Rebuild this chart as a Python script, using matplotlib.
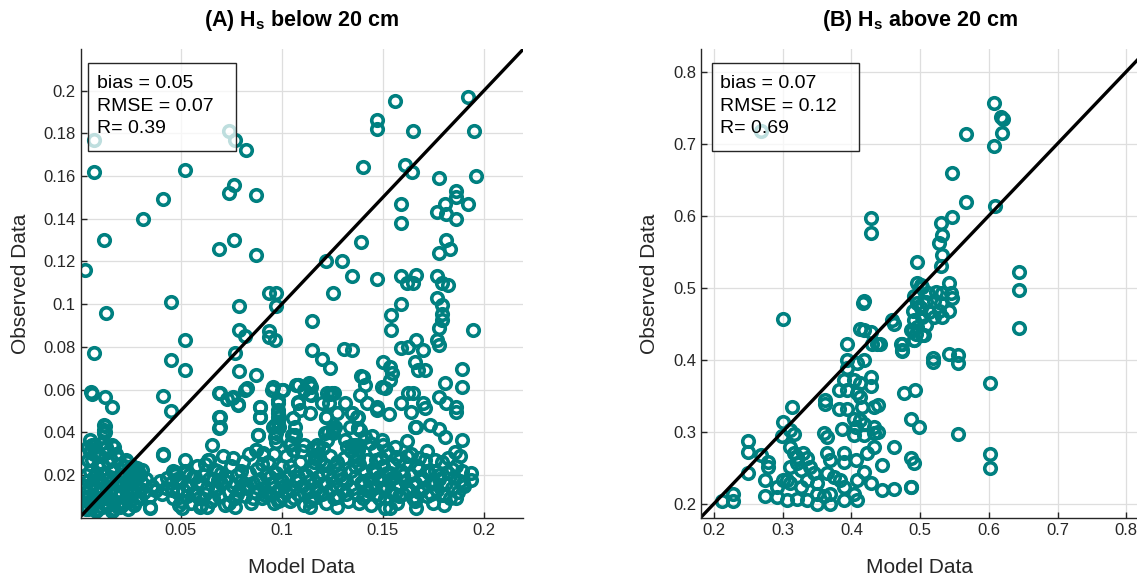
import matplotlib
matplotlib.use("Agg")
import matplotlib.pyplot as plt
from matplotlib.patches import Rectangle
import numpy as np

plt.rcParams['font.family'] = ['Liberation Sans', 'DejaVu Sans']
plt.rcParams['mathtext.default'] = 'regular'

teal = '#008080'

# ---- panel A: Hs below 20 cm (scattered points)
model_a = [0.0072, 0.0072, 0.0027, 0.0121, 0.0312, 0.0414, 0.0523, 0.074, 0.0768, 0.0821,
           0.0765, 0.074, 0.0872, 0.0688, 0.0765, 0.0872,
           0.192, 0.156, 0.147, 0.147, 0.165, 0.195, 0.140, 0.161, 0.1646, 0.178, 0.196,
           0.186, 0.186, 0.1806, 0.192, 0.177, 0.181, 0.186, 0.159, 0.159, 0.139,
           0.181, 0.183, 0.178, 0.122, 0.130, 0.1345, 0.147,
           0.013, 0.0452, 0.0521, 0.0072, 0.045, 0.052, 0.0055, 0.0063, 0.0126, 0.0159,
           0.0414, 0.045, 0.0414, 0.0126, 0.0126, 0.0788, 0.0768, 0.0788, 0.082, 0.0788,
           0.0872, 0.082, 0.069, 0.0727, 0.076, 0.0785, 0.069, 0.069, 0.0938, 0.0974,
           0.0974, 0.0938, 0.0938, 0.0966, 0.0954, 0.0999, 0.107, 0.0892, 0.0892, 0.0982,
           0.0982, 0.0982, 0.0883, 0.0875, 0.0908, 0.0957, 0.0966,
           0.1254, 0.159, 0.1617, 0.1666, 0.165, 0.177, 0.179, 0.182, 0.159, 0.154,
           0.154, 0.177, 0.179, 0.179, 0.179, 0.178, 0.1152, 0.1946, 0.159, 0.1625,
           0.1666, 0.170, 0.1658, 0.1674, 0.1707, 0.177, 0.178, 0.1152, 0.120, 0.124,
           0.131, 0.1345, 0.139, 0.140, 0.150, 0.1534, 0.1543, 0.1534, 0.151, 0.189,
           0.189, 0.1806, 0.178, 0.181, 0.186, 0.186, 0.108, 0.114, 0.114, 0.108,
           0.124, 0.159, 0.1625, 0.165, 0.164, 0.170, 0.1707, 0.1658, 0.153, 0.1345,
           0.137, 0.1377, 0.1218, 0.1254, 0.1213, 0.1254, 0.1666, 0.1732, 0.178, 0.1806,
           0.189, 0.1855, 0.1444, 0.1435, 0.150, 0.1559, 0.1617, 0.1567, 0.1608, 0.136,
           0.1377, 0.136, 0.1468, 0.1938, 0.1938, 0.1896, 0.1798, 0.1666, 0.1666, 0.1534,
           0.151,
           0.0123, 0.0123, 0.0123, 0.0052, 0.0043, 0.0077, 0.0052, 0.0159, 0.0142, 0.0414,
           0.0233, 0.0283, 0.0307, 0.0373, 0.0348, 0.0159, 0.0431, 0.0472, 0.0521, 0.0571,
           0.0455, 0.0505, 0.0595, 0.0653, 0.0636, 0.0669, 0.0686,
           0.0694, 0.0752, 0.0785, 0.0826, 0.0694, 0.0694, 0.0892, 0.0892, 0.0884, 0.0875,
           0.0908, 0.0957, 0.1007, 0.0982, 0.0982, 0.0982, 0.0966, 0.0974, 0.0974, 0.1081,
           0.1147, 0.1147, 0.1081, 0.1089, 0.1056, 0.1064, 0.1064, 0.1048, 0.1056, 0.1246,
           0.1221, 0.1229, 0.1254, 0.1155, 0.1180, 0.1205, 0.1163, 0.1271, 0.1345, 0.1377,
           0.1377, 0.1361, 0.1377, 0.0351, 0.0631, 0.0771, 0.0919, 0.0993,
           0.1413, 0.1496, 0.1108, 0.1133, 0.1224, 0.1257, 0.1199, 0.1232, 0.1314, 0.1273,
           0.1388, 0.1421, 0.1471, 0.1471, 0.1141, 0.1265, 0.1339, 0.1388, 0.1413, 0.1496,
           0.1462, 0.1314, 0.1323, 0.1347, 0.138, 0.0985, 0.0985, 0.1051, 0.1043, 0.1108,
           0.1174, 0.1224, 0.1166, 0.1215, 0.1462, 0.1537, 0.1545, 0.1479, 0.1405, 0.1273,
           0.1273, 0.1141]
obs_a = [0.177, 0.162, 0.116, 0.130, 0.140, 0.149, 0.163, 0.181, 0.177, 0.172,
         0.156, 0.152, 0.151, 0.126, 0.130, 0.123,
         0.197, 0.195, 0.186, 0.182, 0.181, 0.181, 0.164, 0.165, 0.162, 0.159, 0.160,
         0.153, 0.150, 0.147, 0.147, 0.143, 0.142, 0.140, 0.147, 0.138, 0.129,
         0.130, 0.126, 0.124, 0.120, 0.120, 0.113, 0.112,
         0.096, 0.101, 0.083, 0.077, 0.074, 0.069, 0.059, 0.058, 0.0566, 0.052,
         0.057, 0.050, 0.0297, 0.043, 0.040, 0.099, 0.077, 0.088, 0.085, 0.0687,
         0.067, 0.060, 0.0585, 0.0554, 0.0566, 0.0532, 0.0473, 0.0418, 0.105, 0.105,
         0.099, 0.0874, 0.0847, 0.0832, 0.060, 0.060, 0.062, 0.052, 0.0473, 0.0535,
         0.0489, 0.0442, 0.0387, 0.0317, 0.0302, 0.0426, 0.0379,
         0.105, 0.113, 0.110, 0.1136, 0.110, 0.113, 0.110, 0.109, 0.100, 0.0949,
         0.088, 0.103, 0.0995, 0.0956, 0.0925, 0.0886, 0.092, 0.0878, 0.0793, 0.080,
         0.0832, 0.0785, 0.073, 0.0691, 0.0691, 0.0832, 0.0808, 0.0785, 0.0741, 0.0702,
         0.079, 0.0785, 0.0663, 0.0657, 0.073, 0.0707, 0.0676, 0.0644, 0.0606, 0.0695,
         0.061, 0.0629, 0.0566, 0.0535, 0.052, 0.0496, 0.0621, 0.0621, 0.0579, 0.0543,
         0.0578, 0.0535, 0.0582, 0.0582, 0.0496, 0.0535, 0.0512, 0.0426, 0.0484, 0.0489,
         0.0473, 0.0418, 0.0473, 0.0418, 0.0395, 0.0395, 0.0426, 0.0434, 0.0414, 0.0379,
         0.0364, 0.0309, 0.0384, 0.0348, 0.034, 0.0332, 0.036, 0.0286, 0.0255, 0.034,
         0.0317, 0.027, 0.027, 0.0208, 0.0177, 0.0161, 0.0106, 0.0091, 0.0044, 0.0044,
         0.0044,
         0.0434, 0.041, 0.0395, 0.0364, 0.0332, 0.034, 0.0309, 0.034, 0.0309, 0.0294,
         0.0262, 0.0231, 0.0223, 0.013, 0.0052, 0.003, 0.0185, 0.0215, 0.0208, 0.0192,
         0.013, 0.0044, 0.0052, 0.034, 0.027, 0.0223, 0.0177,
         0.0582, 0.0559, 0.0528, 0.0606, 0.0473, 0.0426, 0.052, 0.0473, 0.0387, 0.0317,
         0.0294, 0.0613, 0.0598, 0.0551, 0.0504, 0.0473, 0.0434, 0.0395, 0.0356, 0.0621,
         0.0613, 0.0574, 0.0535, 0.0504, 0.0465, 0.0426, 0.0387, 0.0348, 0.0317, 0.0582,
         0.0473, 0.0403, 0.041, 0.0325, 0.0325, 0.0325, 0.0294, 0.0262, 0.0489, 0.0473,
         0.0418, 0.0332, 0.0286, 0.0044, 0.0052, 0.0052, 0.0106, 0.0083,
         0.0621, 0.061, 0.0598, 0.0629, 0.0582, 0.0582, 0.0535, 0.0535, 0.0535, 0.0489,
         0.0574, 0.0535, 0.0504, 0.052, 0.0489, 0.0426, 0.0426, 0.041, 0.0379, 0.0364,
         0.0317, 0.0364, 0.0332, 0.034, 0.034, 0.0473, 0.0426, 0.0387, 0.034, 0.034,
         0.034, 0.0364, 0.0278, 0.0247, 0.0223, 0.0208, 0.0185, 0.0177, 0.0106, 0.0098,
         0.0052, 0.0052]

# ---- panel A: dense band near the bottom
band_model_a = [0.002, 0.003, 0.003, 0.004, 0.004, 0.005, 0.005, 0.006, 0.006, 0.007, 0.007, 0.008,
                0.008, 0.009, 0.009, 0.010, 0.010, 0.011, 0.011, 0.012, 0.012, 0.013, 0.013, 0.014,
                0.014, 0.015, 0.015, 0.016, 0.016, 0.017, 0.017, 0.018, 0.018, 0.019, 0.019, 0.020,
                0.020, 0.021, 0.022, 0.022, 0.023, 0.024, 0.024, 0.025, 0.026, 0.026, 0.027, 0.028,
                0.029, 0.030, 0.031,
                0.032, 0.033, 0.035, 0.036, 0.038, 0.040, 0.041, 0.043,
                0.045, 0.046, 0.047, 0.048, 0.049, 0.050, 0.051, 0.052, 0.053, 0.054, 0.055, 0.056,
                0.057, 0.058, 0.059, 0.060, 0.061, 0.062, 0.063, 0.064, 0.065, 0.066, 0.067, 0.068,
                0.069, 0.070, 0.071, 0.072, 0.073, 0.074, 0.075, 0.076, 0.077, 0.078, 0.079, 0.080,
                0.081, 0.082, 0.083, 0.084, 0.085, 0.086, 0.087, 0.088, 0.089, 0.090, 0.091, 0.092,
                0.093, 0.094, 0.095, 0.096, 0.097, 0.098, 0.099, 0.100, 0.100,
                0.101, 0.102, 0.103, 0.104, 0.105, 0.106, 0.107, 0.108, 0.109, 0.110, 0.111, 0.112,
                0.113, 0.114, 0.115, 0.116, 0.117, 0.118, 0.119, 0.120, 0.121, 0.122, 0.123, 0.124,
                0.125, 0.126, 0.127, 0.128, 0.129, 0.130, 0.131, 0.132, 0.133, 0.134, 0.135, 0.136,
                0.137, 0.138, 0.139, 0.140, 0.141, 0.142, 0.143, 0.144, 0.145, 0.146, 0.147, 0.148,
                0.149, 0.150, 0.151, 0.152, 0.153, 0.154, 0.155, 0.156, 0.157, 0.158, 0.159, 0.160,
                0.161, 0.162, 0.163, 0.164, 0.165, 0.166, 0.167, 0.168, 0.169, 0.170, 0.171, 0.172,
                0.173, 0.174, 0.175, 0.176, 0.177, 0.178, 0.179, 0.180, 0.181, 0.182, 0.183, 0.184,
                0.185, 0.186, 0.187, 0.188, 0.189, 0.190,
                # second pass through the band
                0.003, 0.004, 0.005, 0.006, 0.007, 0.008, 0.009, 0.010, 0.011, 0.012, 0.013, 0.014,
                0.015, 0.016, 0.017, 0.018, 0.019, 0.020, 0.021, 0.022, 0.023, 0.024, 0.025, 0.026,
                0.027, 0.028, 0.029, 0.006, 0.011, 0.017, 0.002, 0.003, 0.004, 0.009, 0.013, 0.020,
                0.025, 0.030,
                0.046, 0.048, 0.050, 0.052, 0.054, 0.056, 0.058, 0.060, 0.062, 0.064, 0.066, 0.068,
                0.070, 0.072, 0.074, 0.076, 0.078, 0.080, 0.082, 0.084, 0.086, 0.088, 0.090, 0.092,
                0.094, 0.096, 0.098, 0.100,
                0.102, 0.104, 0.106, 0.108, 0.110, 0.112, 0.114, 0.116, 0.118, 0.120, 0.122, 0.124,
                0.126, 0.128, 0.130, 0.132, 0.134, 0.136, 0.138, 0.140, 0.142, 0.144, 0.146, 0.148,
                0.150, 0.152, 0.154, 0.156, 0.158, 0.160, 0.162, 0.164, 0.166, 0.168, 0.170, 0.172,
                0.174, 0.176, 0.178, 0.180, 0.182, 0.184, 0.186, 0.188, 0.176, 0.172, 0.168, 0.158]
band_obs_a = [0.006, 0.012, 0.004, 0.009, 0.017, 0.022, 0.014, 0.005, 0.027, 0.010, 0.019, 0.003,
              0.014, 0.024, 0.008, 0.017, 0.029, 0.012, 0.005, 0.021, 0.009, 0.015, 0.033, 0.026,
              0.006, 0.011, 0.019, 0.003, 0.014, 0.023, 0.008, 0.017, 0.012, 0.005, 0.028, 0.020,
              0.010, 0.015, 0.024, 0.007, 0.013, 0.018, 0.009, 0.021, 0.011, 0.016, 0.006, 0.019,
              0.013, 0.009, 0.016,
              0.012, 0.018, 0.010, 0.015, 0.013, 0.017, 0.011, 0.014,
              0.016, 0.009, 0.020, 0.012, 0.006, 0.017, 0.013, 0.022, 0.010, 0.015, 0.007, 0.019,
              0.012, 0.024, 0.009, 0.016, 0.020, 0.011, 0.014, 0.027, 0.008, 0.018, 0.013, 0.022,
              0.010, 0.016, 0.029, 0.006, 0.019, 0.012, 0.024, 0.015, 0.009, 0.020, 0.013, 0.017,
              0.026, 0.010, 0.014, 0.021, 0.007, 0.016, 0.012, 0.023, 0.018, 0.009, 0.014, 0.020,
              0.026, 0.011, 0.016, 0.007, 0.021, 0.013, 0.018, 0.024, 0.010,
              0.015, 0.029, 0.019, 0.008, 0.013, 0.022, 0.017, 0.011, 0.026, 0.015, 0.006, 0.020,
              0.012, 0.017, 0.023, 0.009, 0.014, 0.019, 0.027, 0.011, 0.016, 0.007, 0.021, 0.013,
              0.018, 0.024, 0.015, 0.010, 0.020, 0.013, 0.028, 0.017, 0.008, 0.022, 0.014, 0.019,
              0.011, 0.025, 0.016, 0.009, 0.021, 0.013, 0.018, 0.006, 0.023, 0.015, 0.011, 0.019,
              0.028, 0.014, 0.009, 0.021, 0.017, 0.012, 0.025, 0.019, 0.007, 0.015, 0.022, 0.011,
              0.017, 0.029, 0.013, 0.020, 0.009, 0.016, 0.024, 0.012, 0.019, 0.014, 0.027, 0.010,
              0.021, 0.016, 0.007, 0.022, 0.013, 0.018, 0.026, 0.011, 0.016, 0.021, 0.009, 0.014,
              0.019, 0.024, 0.012, 0.017, 0.022, 0.015,
              0.020, 0.027, 0.008, 0.016, 0.030, 0.021, 0.004, 0.012, 0.025, 0.032, 0.007, 0.018,
              0.028, 0.022, 0.004, 0.030, 0.016, 0.025, 0.006, 0.019, 0.027, 0.004, 0.013, 0.024,
              0.018, 0.008, 0.022, 0.034, 0.035, 0.033, 0.015, 0.009, 0.004, 0.018, 0.011, 0.005,
              0.008, 0.020,
              0.022, 0.018, 0.008, 0.027, 0.020, 0.011, 0.016, 0.006, 0.025, 0.018, 0.009, 0.014,
              0.021, 0.017, 0.007, 0.028, 0.011, 0.022, 0.015, 0.030, 0.009, 0.017, 0.025, 0.012,
              0.019, 0.030, 0.008, 0.017,
              0.012, 0.024, 0.009, 0.019, 0.031, 0.014, 0.008, 0.026, 0.012, 0.021, 0.016, 0.029,
              0.009, 0.023, 0.018, 0.011, 0.031, 0.024, 0.007, 0.017, 0.027, 0.014, 0.021, 0.009,
              0.024, 0.031, 0.018, 0.011, 0.027, 0.020, 0.014, 0.030, 0.008, 0.023, 0.018, 0.031,
              0.011, 0.027, 0.020, 0.006, 0.028, 0.023, 0.009, 0.029, 0.016, 0.022, 0.028, 0.010]

# ---- panel B: Hs above 20 cm
model_b = [0.608, 0.618, 0.620, 0.619, 0.608, 0.567, 0.546, 0.567, 0.609, 0.546,
           0.530, 0.532, 0.527, 0.532, 0.531, 0.496, 0.495, 0.502, 0.542, 0.644,
           0.644, 0.269, 0.428, 0.428, 0.418, 0.644, 0.519, 0.555, 0.555, 0.602,
           0.476, 0.492, 0.486, 0.498, 0.555, 0.486, 0.491, 0.601, 0.601, 0.486,
           0.300, 0.417, 0.412, 0.418, 0.428, 0.430, 0.437, 0.394, 0.459, 0.462,
           0.472, 0.474, 0.489, 0.491, 0.394, 0.394, 0.408, 0.418, 0.389, 0.404,
           0.413, 0.428, 0.428, 0.382, 0.394, 0.408, 0.413, 0.362, 0.362, 0.382,
           0.394, 0.416, 0.433, 0.438, 0.404, 0.413, 0.406, 0.418, 0.433, 0.438,
           0.386, 0.360, 0.365, 0.404, 0.418, 0.433, 0.313, 0.301, 0.311, 0.316,
           0.299, 0.250, 0.250, 0.269, 0.279, 0.279, 0.250, 0.274, 0.228, 0.211,
           0.228, 0.274, 0.292, 0.292, 0.306, 0.306, 0.311, 0.316, 0.321, 0.330,
           0.335, 0.311, 0.321, 0.326, 0.340, 0.345, 0.301, 0.311, 0.326, 0.335,
           0.350, 0.321, 0.335, 0.350, 0.350, 0.360, 0.369, 0.369, 0.365, 0.369,
           0.365, 0.374, 0.384, 0.389, 0.389, 0.389, 0.389, 0.404, 0.408, 0.408,
           0.418, 0.428, 0.445, 0.462, 0.486, 0.406, 0.423, 0.433, 0.445, 0.462,
           0.501, 0.511, 0.523, 0.532, 0.545, 0.491, 0.496, 0.508, 0.520, 0.530,
           0.547, 0.489, 0.501, 0.513, 0.528, 0.542, 0.491, 0.503, 0.520, 0.532,
           0.486, 0.496, 0.508, 0.494, 0.506, 0.442, 0.474, 0.474, 0.491, 0.503,
           0.518, 0.542]
obs_b = [0.756, 0.737, 0.734, 0.715, 0.696, 0.713, 0.659, 0.619, 0.613, 0.598,
         0.590, 0.573, 0.562, 0.545, 0.530, 0.536, 0.506, 0.501, 0.507, 0.521,
         0.497, 0.717, 0.596, 0.576, 0.482, 0.444, 0.396, 0.406, 0.395, 0.368,
         0.353, 0.358, 0.318, 0.307, 0.297, 0.263, 0.257, 0.269, 0.250, 0.223,
         0.456, 0.478, 0.443, 0.441, 0.438, 0.422, 0.421, 0.421, 0.455, 0.450,
         0.422, 0.412, 0.441, 0.427, 0.399, 0.389, 0.395, 0.399, 0.371, 0.371,
         0.367, 0.376, 0.364, 0.358, 0.358, 0.353, 0.348, 0.344, 0.338, 0.332,
         0.332, 0.334, 0.334, 0.337, 0.318, 0.316, 0.307, 0.311, 0.307, 0.300,
         0.303, 0.298, 0.293, 0.295, 0.295, 0.298, 0.334, 0.314, 0.302, 0.297,
         0.294, 0.287, 0.271, 0.267, 0.258, 0.251, 0.243, 0.233, 0.214, 0.204,
         0.203, 0.210, 0.223, 0.209, 0.205, 0.233, 0.279, 0.270, 0.265, 0.270,
         0.263, 0.251, 0.256, 0.247, 0.251, 0.242, 0.233, 0.228, 0.223, 0.233,
         0.228, 0.207, 0.205, 0.214, 0.200, 0.210, 0.214, 0.200, 0.270, 0.260,
         0.242, 0.237, 0.233, 0.270, 0.258, 0.223, 0.205, 0.214, 0.233, 0.205,
         0.244, 0.228, 0.219, 0.220, 0.223, 0.260, 0.270, 0.279, 0.254, 0.279,
         0.503, 0.492, 0.494, 0.492, 0.492, 0.489, 0.478, 0.480, 0.482, 0.478,
         0.485, 0.468, 0.471, 0.466, 0.468, 0.468, 0.455, 0.459, 0.459, 0.459,
         0.441, 0.445, 0.448, 0.436, 0.434, 0.422, 0.422, 0.413, 0.427, 0.434,
         0.402, 0.408]

stats_a = "bias = 0.05\nRMSE = 0.07\nR= 0.39"
stats_b = "bias = 0.07\nRMSE = 0.12\nR= 0.69"

fig = plt.figure(figsize=(11.37, 5.75), dpi=100)
ax1 = fig.add_axes([0.071, 0.0986, 0.389, 0.817])
ax2 = fig.add_axes([0.6165, 0.0986, 0.385, 0.817])


def style_axes(ax, xlim, ylim, xticks, xlabels, yticks, ylabels):
    ax.set_xlim(xlim)
    ax.set_ylim(ylim)
    ax.set_xticks(xticks)
    ax.set_xticklabels(xlabels)
    ax.set_yticks(yticks)
    ax.set_yticklabels(ylabels)
    ax.grid(True, color='#dedede', linewidth=0.9)
    ax.set_axisbelow(True)
    for s in ['top', 'right']:
        ax.spines[s].set_visible(False)
    for s in ['left', 'bottom']:
        ax.spines[s].set_color('#262626')
        ax.spines[s].set_linewidth(1.0)
    ax.tick_params(direction='in', length=4, width=1, colors='#262626', labelsize=12,
                   labelcolor='#262626')
    ax.set_xlabel('Model Data', fontsize=15, color='#262626', labelpad=14)
    ax.set_ylabel('Observed Data', fontsize=15, color='#262626', labelpad=10)


def stats_box(ax, x0, w, txt):
    # fixed-size annotation box (white, semi-transparent) like the original
    ax.add_patch(Rectangle((x0, 0.782), w, 0.187, transform=ax.transAxes,
                           facecolor=(1, 1, 1, 0.75), edgecolor='#262626',
                           linewidth=1.0, zorder=5))
    ax.text(x0 + 0.019, 0.943, txt, transform=ax.transAxes, fontsize=14, va='top',
            ha='left', linespacing=1.43, zorder=6)


mk = dict(linestyle='none', marker='o', markersize=8.3, markerfacecolor='none',
          markeredgecolor=teal, markeredgewidth=2.6)

# Panel A
ax1.plot(band_model_a, band_obs_a, **mk)
ax1.plot(model_a, obs_a, **mk)
ax1.plot([0, 0.23], [0, 0.23], color='black', linewidth=2.4)
style_axes(ax1, (0.0006, 0.2193), (-0.0003, 0.2197),
           [0.05, 0.1, 0.15, 0.2], ['0.05', '0.1', '0.15', '0.2'],
           np.arange(0.02, 0.201, 0.02),
           ['0.02', '0.04', '0.06', '0.08', '0.1', '0.12', '0.14', '0.16', '0.18', '0.2'])
ax1.set_title(r'(A) H$_{s}$ below 20 cm', fontsize=15.5, fontweight='bold', pad=16)
stats_box(ax1, 0.0172, 0.333, stats_a)

# Panel B
ax2.plot(model_b, obs_b, **mk)
ax2.plot([0.15, 0.85], [0.15, 0.85], color='black', linewidth=2.4)
style_axes(ax2, (0.181, 0.818), (0.1796, 0.832),
           np.arange(0.2, 0.81, 0.1), ['0.2', '0.3', '0.4', '0.5', '0.6', '0.7', '0.8'],
           np.arange(0.2, 0.81, 0.1), ['0.2', '0.3', '0.4', '0.5', '0.6', '0.7', '0.8'])
ax2.set_title(r'(B) H$_{s}$ above 20 cm', fontsize=15.5, fontweight='bold', pad=16)
stats_box(ax2, 0.0251, 0.336, stats_b)

fig.savefig('out.png', dpi=100)
